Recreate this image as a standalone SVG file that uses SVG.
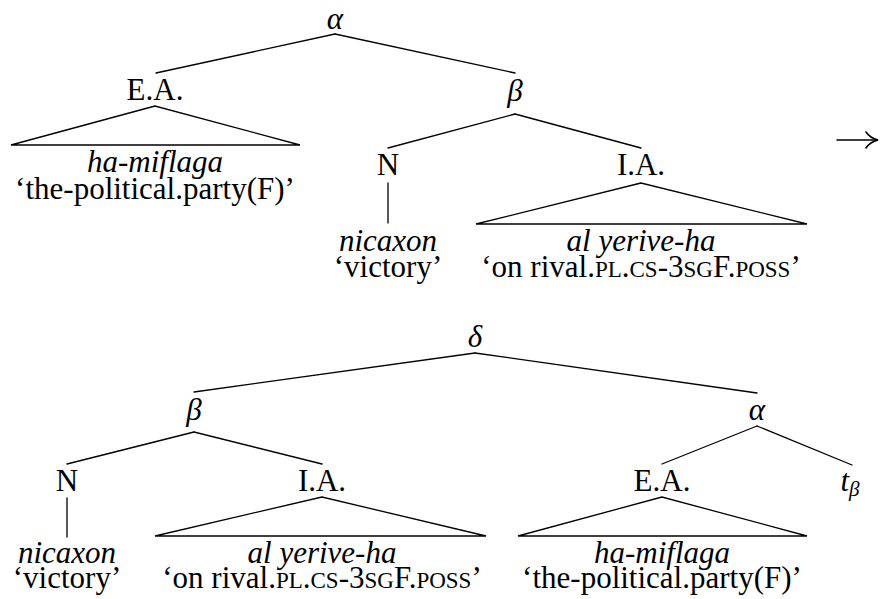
<svg xmlns="http://www.w3.org/2000/svg" width="881" height="599" viewBox="0 0 881 599">
  <style>
    text { font-family: "Liberation Serif", "Times New Roman", serif; font-size: 31px; fill: #000; text-anchor: middle; }
    .it { font-style: italic; }
    .sc { font-size: 23px; }
    .sub { font-size: 21px; font-style: italic; }
    .edge { stroke: #000; stroke-width: 1.3; fill: none; stroke-linecap: round; }
    .arrow { stroke: #000; stroke-width: 1.6; fill: none; stroke-linecap: round; }
  </style>
  <rect width="881" height="599" fill="#fff"/>

  <!-- connectors of both trees -->
  <g id="connectors" class="edge">
    <!-- upper tree -->
    <line x1="335" y1="34" x2="156" y2="73"/>
    <line x1="335" y1="34" x2="515" y2="73"/>
    <line x1="515" y1="114" x2="388" y2="148"/>
    <line x1="515" y1="114" x2="641" y2="148"/>
    <line x1="388" y1="183" x2="388" y2="223"/>
    <path d="M155,106 L11,145 L300,145 Z"/>
    <path d="M641,183 L476,224 L807,224 Z"/>
    <!-- lower tree -->
    <line x1="475" y1="353" x2="194" y2="392"/>
    <line x1="475" y1="353" x2="757" y2="393"/>
    <line x1="194" y1="432" x2="67" y2="464"/>
    <line x1="194" y1="432" x2="322" y2="464"/>
    <line x1="67" y1="498" x2="67" y2="537"/>
    <path d="M322,497 L155,536 L486,536 Z"/>
    <line x1="757" y1="426" x2="662" y2="464"/>
    <line x1="757" y1="426" x2="852" y2="465"/>
    <path d="M662,497 L518,536 L807,536 Z"/>
  </g>

  <!-- derivation arrow between the two trees -->
  <g id="derivation-arrow" class="arrow">
    <line x1="837" y1="140" x2="877" y2="140"/>
    <path d="M866,132 Q870,138 878,140 Q870,142 866,148"/>
  </g>

  <!-- upper tree nodes -->
  <g id="alpha-top"><text class="it" x="335" y="29">α</text></g>
  <g id="ea-top">
    <text x="155" y="100">E.A.</text>
    <text class="it" x="155" y="172">ha-miflaga</text>
    <text x="155" y="199">‘the-political.party(F)’</text>
  </g>
  <g id="beta-top"><text class="it" x="515" y="101">β</text></g>
  <g id="n-top">
    <text x="388" y="175">N</text>
    <text class="it" x="388" y="251">nicaxon</text>
    <text x="388" y="277">‘victory’</text>
  </g>
  <g id="ia-top">
    <text x="641" y="175">I.A.</text>
    <text class="it" x="641" y="251">al yerive-ha</text>
    <text x="641" y="277">‘on rival.<tspan class="sc">PL</tspan>.<tspan class="sc">CS</tspan>-3<tspan class="sc">SG</tspan>F.<tspan class="sc">POSS</tspan>’</text>
  </g>

  <!-- lower tree nodes -->
  <g id="delta"><text class="it" x="475" y="347">δ</text></g>
  <g id="beta-bottom"><text class="it" x="194" y="420">β</text></g>
  <g id="n-bottom">
    <text x="67" y="491">N</text>
    <text class="it" x="67" y="563">nicaxon</text>
    <text x="67" y="588">‘victory’</text>
  </g>
  <g id="ia-bottom">
    <text x="322" y="491">I.A.</text>
    <text class="it" x="322" y="563">al yerive-ha</text>
    <text x="322" y="588">‘on rival.<tspan class="sc">PL</tspan>.<tspan class="sc">CS</tspan>-3<tspan class="sc">SG</tspan>F.<tspan class="sc">POSS</tspan>’</text>
  </g>
  <g id="alpha-bottom"><text class="it" x="757" y="420">α</text></g>
  <g id="ea-bottom">
    <text x="662" y="491">E.A.</text>
    <text class="it" x="662" y="563">ha-miflaga</text>
    <text x="662" y="588">‘the-political.party(F)’</text>
  </g>
  <g id="trace">
    <text x="850" y="491"><tspan class="it">t</tspan><tspan class="sub" dy="5">β</tspan></text>
  </g>
</svg>
